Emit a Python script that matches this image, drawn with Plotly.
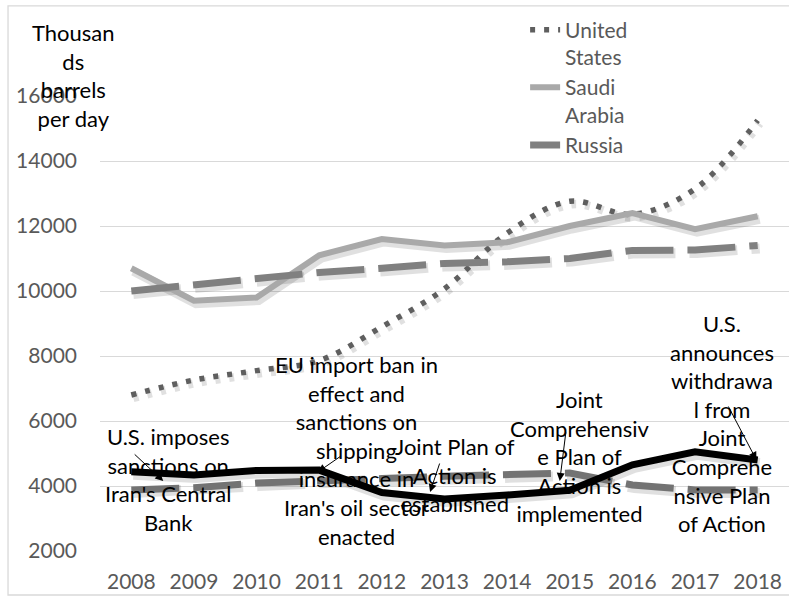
import plotly.graph_objects as go

years = [2008, 2009, 2010, 2011, 2012, 2013, 2014, 2015, 2016, 2017, 2018]
united_states = [6800, 7260, 7550, 7860, 8900, 10070, 11780, 12760, 12360, 13140, 15250]
saudi_arabia = [10700, 9700, 9800, 11100, 11600, 11400, 11500, 12000, 12400, 11900, 12300]
russia = [10000, 10200, 10400, 10570, 10700, 10850, 10900, 11000, 11250, 11260, 11400]
iran_other = [3880, 3950, 4090, 4180, 4230, 4300, 4340, 4400, 4030, 3880, 3880]
iran = [4440, 4340, 4480, 4490, 3800, 3600, 3720, 3870, 4650, 5050, 4800]
y_ticks = [2000, 4000, 6000, 8000, 10000, 12000, 14000, 16000]

TEXT_FONT = "Lato"
X_RANGE = [2007.5, 2018.5]
Y_RANGE = [2000, 16000]
PLOT_W, PLOT_H = 689, 455
SHADOW_DX, SHADOW_DY = 2, 3  # pixels

series = [
    # (values, name, color, width, dash, shape, legend)
    (iran_other, "Iran (other)", "#737373", 7, "48px,14px", "linear", False),
    (iran, "Iran", "#000000", 7, None, "linear", False),
    (united_states, "United<br>States", "#5f5f5f", 5.5, "5px,9px", "spline", True),
    (saudi_arabia, "Saudi<br>Arabia", "#a9a9a9", 6, None, "linear", True),
    (russia, "Russia", "#808080", 7, "48px,14px", "linear", True),
]

fig = go.Figure()
# soft shadows (x2/y2 shifted a few pixels), drawn beneath the lines (x3/y3)
for vals, name, color, w, dash, shape, leg in series:
    fig.add_trace(go.Scatter(x=years, y=vals, mode="lines", showlegend=False, hoverinfo="skip",
                             xaxis="x2", yaxis="y2",
                             line=dict(color="rgba(0,0,0,0.12)", width=w + 3, dash=dash, shape=shape)))
for vals, name, color, w, dash, shape, leg in series:
    fig.add_trace(go.Scatter(x=years, y=vals, mode="lines", name=name, showlegend=leg,
                             xaxis="x3", yaxis="y3",
                             line=dict(color=color, width=w, dash=dash, shape=shape)))

# event labels: (text, x, y)
labels = [
    ("U.S. imposes<br>sanctions on<br>Iran's Central<br>Bank", 2008.59, 4185),
    ("EU import ban in<br>effect and<br>sanctions on<br>shipping<br>insurance in<br>Iran's oil sector<br>enacted", 2011.59, 5107),
    ("Joint Plan of<br>Action is<br>established", 2013.17, 4338),
    ("Joint<br>Comprehensiv<br>e Plan of<br>Action is<br>implemented", 2015.16, 4907),
    ("U.S.<br>announces<br>withdrawa<br>l from<br>Joint<br>Comprehe<br>nsive Plan<br>of Action", 2017.43, 5923),
]
# arrows: (tail x, tail y, head x, head y)
arrows = [
    (2008.03, 5015, 2008.51, 4154),
    (2011.37, 4954, 2010.98, 4431),
    (2012.93, 4738, 2012.77, 3815),
    (2014.94, 5692, 2014.84, 4154),
    (2017.52, 6492, 2017.98, 4800),
]

annotations = []
for t, x, y in labels:
    annotations.append(dict(text=t, x=x, y=y, xref="x", yref="y", showarrow=False,
                            xanchor="center", yanchor="middle", align="center",
                            font=dict(family=TEXT_FONT, size=22, color="#000000")))
for tx, ty, hx, hy in arrows:
    annotations.append(dict(text="", x=hx, y=hy, ax=tx, ay=ty, xref="x", yref="y",
                            axref="x", ayref="y", showarrow=True, arrowhead=2,
                            arrowsize=1.6, arrowwidth=1, arrowcolor="#000000",
                            standoff=0, startstandoff=0))
annotations.append(dict(text="Thousan<br>ds<br>barrels<br>per day", x=-0.039, y=1.044,
                        xref="paper", yref="paper", showarrow=False, xanchor="center",
                        yanchor="middle", align="center",
                        font=dict(family=TEXT_FONT, size=22, color="#000000")))

xspan = X_RANGE[1] - X_RANGE[0]
yspan = Y_RANGE[1] - Y_RANGE[0]
x_shift = SHADOW_DX * xspan / PLOT_W
y_shift = SHADOW_DY * yspan / PLOT_H

hidden = dict(visible=False, showgrid=False, zeroline=False)

fig.update_layout(
    width=789, height=598,
    margin=dict(l=100, r=0, t=96, b=47),
    paper_bgcolor="white", plot_bgcolor="white",
    font=dict(family=TEXT_FONT, color="#595959"),
    annotations=annotations,
    showlegend=True,
    legend=dict(x=0.617, y=1.19, xanchor="left", yanchor="top", valign="top",
                bgcolor="rgba(0,0,0,0)", font=dict(family=TEXT_FONT, size=21, color="#595959"),
                tracegroupgap=0, itemwidth=30),
    shapes=[dict(type="rect", xref="paper", yref="paper", x0=-0.1335, x1=1.02,
                 y0=-0.0967, y1=1.198, line=dict(color="#d9d9d9", width=1.3),
                 fillcolor="rgba(0,0,0,0)", layer="below")],
    xaxis=dict(range=X_RANGE, tickvals=years, ticktext=[str(y) for y in years],
               showgrid=False, zeroline=False, showline=False, ticks="",
               tickfont=dict(family=TEXT_FONT, size=21, color="#595959"),
               ticklabelstandoff=16),
    yaxis=dict(range=Y_RANGE, tickvals=y_ticks, ticktext=[str(v) for v in y_ticks],
               showgrid=True, gridcolor="#d9d9d9",
               gridwidth=1.3, zeroline=False, showline=False, ticks="",
               tickfont=dict(family=TEXT_FONT, size=21, color="#595959"),
               ticklabelstandoff=22),
    xaxis2=dict(overlaying="x", range=[X_RANGE[0] - x_shift, X_RANGE[1] - x_shift], **hidden),
    yaxis2=dict(overlaying="y", range=[Y_RANGE[0] + y_shift, Y_RANGE[1] + y_shift], **hidden),
    xaxis3=dict(overlaying="x", range=X_RANGE, **hidden),
    yaxis3=dict(overlaying="y", range=Y_RANGE, **hidden),
)

fig.write_html("out.html", config={"displayModeBar": False},
               post_script="document.body.style.margin='0';")
